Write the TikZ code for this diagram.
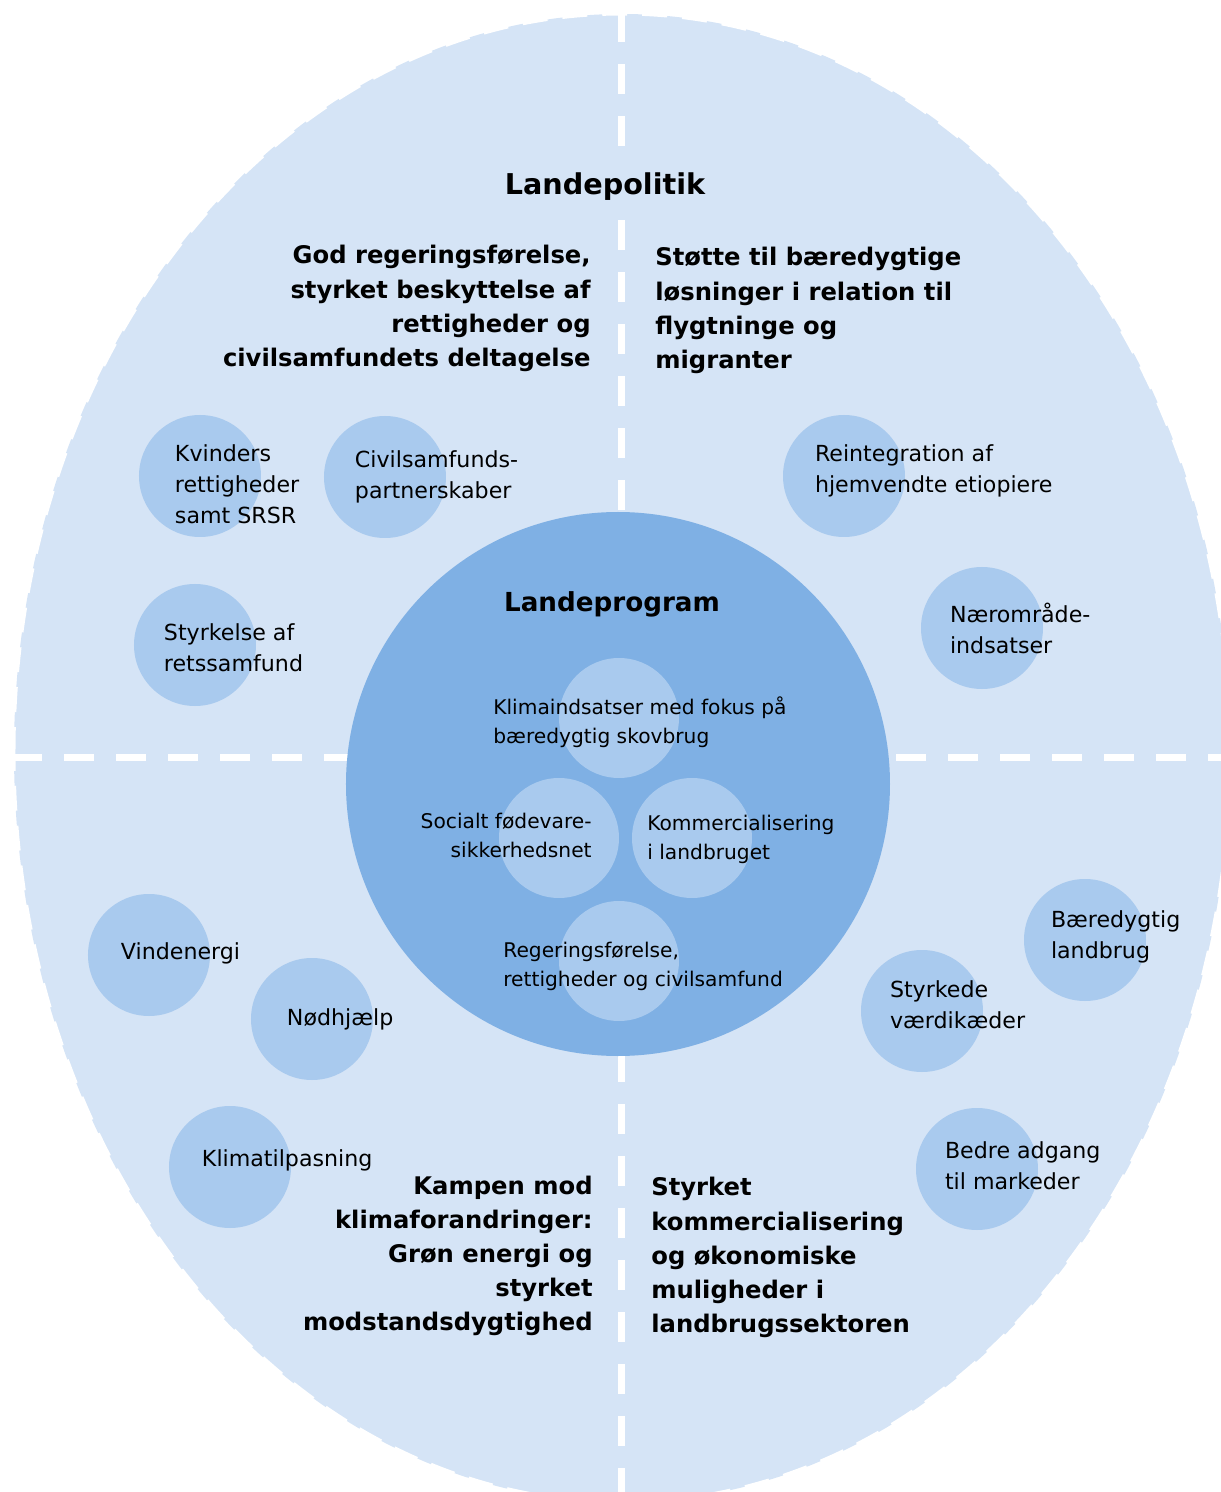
\documentclass[tikz,border=0pt]{standalone}
\usepackage{fontspec}
\setmainfont{DejaVu Sans}
\usepackage{tikz}
\definecolor{bgblue}{HTML}{D5E4F6}
\definecolor{dotblue}{HTML}{A9CAEE}
\definecolor{coreblue}{HTML}{7FB0E4}
\newcommand{\headfont}{\fontsize{13.8}{19.4}\selectfont\bfseries}
\newcommand{\dotfont}{\fontsize{12.6}{17.6}\selectfont}
\newcommand{\corefont}{\fontsize{11.5}{16.5}\selectfont}
\newcommand{\fieldpath}{(-12.16,0) arc [start angle=180, end angle=0, x radius=12.16, y radius=14.76]
    arc [start angle=0, end angle=-180, x radius=12.16, y radius=15.0] -- cycle}

\begin{document}
\begin{tikzpicture}[
        bubble/.style={circle, fill=dotblue, inner sep=0pt, minimum size=2.44cm},
        seed/.style={circle, fill=dotblue, inner sep=0pt, minimum size=2.4cm},
        bubbletext/.style={anchor=west, align=left, inner sep=0pt, font=\dotfont},
        seedtext/.style={align=left, inner sep=0pt, font=\corefont},
        headtext/.style={inner sep=0pt, font=\headfont},
        divider/.style={white, line width=0.14cm, dash pattern=on 0.6cm off 0.44cm}]
    \useasboundingbox (-12.44,-14.8) rectangle (11.98,15.04);
    \coordinate (O) at (0,0);

    % outer field and quadrant lines
    \fill[bgblue] \fieldpath;
    \begin{scope}
        \clip \fieldpath;
        \draw[divider] (0,14.8) -- (0,-14.8);
        \draw[divider] (-12.2,-0.1) -- (12.2,-0.1);
    \end{scope}
    \draw[white, line width=0.06cm, dash pattern=on 0.5cm off 0.3cm] \fieldpath;

    \node[headtext, font=\fontsize{16.3}{20}\selectfont\bfseries, fill=bgblue, inner xsep=0.2cm, inner ysep=0.35cm] (politik) at (-0.34,11.30) {Landepolitik};
    \node[headtext, anchor=east, align=right] (nordvest) at (-0.62,8.87) {God regeringsførelse,\\styrket beskyttelse af\\rettigheder og\\civilsamfundets deltagelse};
    \node[headtext, anchor=west, align=left] (nordost) at (0.66,8.83) {Støtte til bæredygtige\\løsninger i relation til\\flygtninge og\\migranter};
    \node[headtext, anchor=east, align=right] (sydvest) at (-0.58,-10.08) {Kampen mod\\klimaforandringer:\\Grøn energi og\\styrket\\modstandsdygtighed};
    \node[headtext, anchor=west, align=left] (sydost) at (0.58,-10.11) {Styrket\\kommercialisering\\og økonomiske\\muligheder i\\landbrugssektoren};

    % landeprogram in the middle
    \node[circle, fill=coreblue, inner sep=0pt, minimum size=10.88cm] (core) at (-0.08,-0.64) {};
    \node[headtext, font=\fontsize{14.9}{18}\selectfont\bfseries] (program) at (-0.20,2.96) {Landeprogram};

    \node[seed] (klima) at (-0.06,0.68) {};
    \node[seed] (social) at (-1.26,-1.72) {};
    \node[seed] (kommerciel) at (1.40,-1.72) {};
    \node[seed] (regering) at (-0.06,-4.18) {};
    \node[seedtext, anchor=west] (klimatxt) at (-2.58,0.60) {Klimaindsatser med fokus på\\bæredygtig skovbrug};
    \node[seedtext, anchor=east, align=right] (socialtxt) at (-0.60,-1.66) {Socialt fødevare-\\sikkerhedsnet};
    \node[seedtext, anchor=west] (kommercieltxt) at (0.50,-1.74) {Kommercialisering\\i landbruget};
    \node[seedtext, anchor=west] (regeringtxt) at (-2.38,-4.28) {Regeringsførelse,\\rettigheder og civilsamfund};

    % bubbles of the four quadrants
    \node[bubble] (kvinder) at (-8.44,5.52) {};
    \node[bubble] (civil) at (-4.74,5.50) {};
    \node[bubble] (retsstat) at (-8.54,2.14) {};
    \node[bubble] (reintegration) at (4.44,5.52) {};
    \node[bubble] (naer) at (7.20,2.48) {};
    \node[bubble] (vind) at (-9.46,-4.06) {};
    \node[bubble] (noed) at (-6.20,-5.34) {};
    \node[bubble] (tilpasning) at (-7.84,-8.30) {};
    \node[bubble] (landbrug) at (9.26,-3.76) {};
    \node[bubble] (vaerdi) at (6.00,-5.18) {};
    \node[bubble] (marked) at (7.10,-8.34) {};

    \node[bubbletext] (kvindertxt) at ([xshift=0.72cm, yshift=-0.16cm]kvinder.west) {Kvinders\\rettigheder\\samt SRSR};
    \node[bubbletext] (civiltxt) at ([xshift=0.62cm]civil.west) {Civilsamfunds-\\partnerskaber};
    \node[bubbletext] (retsstattxt) at ([xshift=0.6cm, yshift=-0.06cm]retsstat.west) {Styrkelse af\\retssamfund};
    \node[bubbletext] (reintegrationtxt) at ([xshift=0.64cm, yshift=0.1cm]reintegration.west) {Reintegration af\\hjemvendte etiopiere};
    \node[bubbletext] (naertxt) at ([xshift=0.58cm]naer.west) {Nærområde-\\indsatser};
    \node[bubbletext] (vindtxt) at ([xshift=0.66cm, yshift=0.04cm]vind.west) {Vindenergi};
    \node[bubbletext] (noedtxt) at ([xshift=0.72cm]noed.west) {Nødhjælp};
    \node[bubbletext] (tilpasningtxt) at ([xshift=0.66cm, yshift=0.14cm]tilpasning.west) {Klimatilpasning};
    \node[bubbletext] (landbrugtxt) at ([xshift=0.54cm, yshift=0.06cm]landbrug.west) {Bæredygtig\\landbrug};
    \node[bubbletext] (vaerditxt) at ([xshift=0.58cm, yshift=0.12cm]vaerdi.west) {Styrkede\\værdikæder};
    \node[bubbletext] (markedtxt) at ([xshift=0.58cm, yshift=0.06cm]marked.west) {Bedre adgang\\til markeder};
\end{tikzpicture}
\end{document}
